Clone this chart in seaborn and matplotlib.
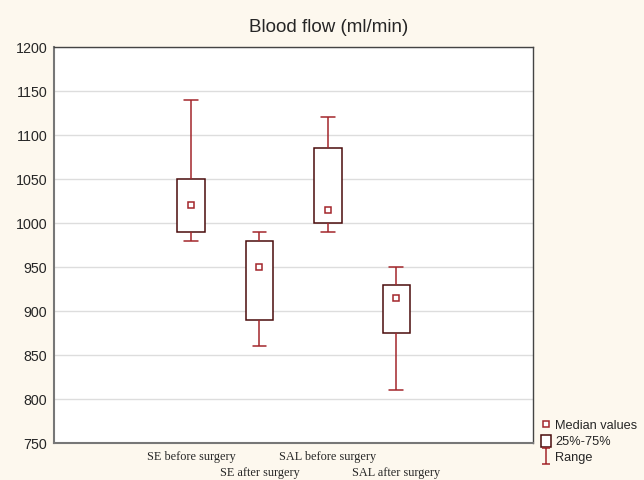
import matplotlib
matplotlib.use('Agg')
import matplotlib.pyplot as plt
import seaborn as sns
import pandas as pd
from matplotlib.lines import Line2D
from matplotlib.patches import Rectangle
from matplotlib.path import Path

groups = ['SE before surgery', 'SE after surgery', 'SAL before surgery', 'SAL after surgery']
mins = [980, 860, 990, 810]
q1s = [990, 890, 1000, 875]
medians = [1020, 950, 1015, 915]
q3s = [1050, 980, 1085, 930]
maxs = [1140, 990, 1120, 950]

# five summary values per group -> boxplot with whis=(0, 100) reproduces them exactly
rows = []
for g, a, b, c, d, e in zip(groups, mins, q1s, medians, q3s, maxs):
    for v in (a, b, c, d, e):
        rows.append({'group': g, 'flow': v})
df = pd.DataFrame(rows)

sns.set_style('white')
plt.rcParams['font.family'] = ['Liberation Sans', 'DejaVu Sans']

bg = '#fdf8ee'
box_edge = '#4a0c0c'
whisk = '#a3262b'

fig = plt.figure(figsize=(6.44, 4.8), dpi=100, facecolor=bg)
ax = fig.add_axes([0.084, 0.077, 0.744, 0.825])
ax.set_facecolor('white')

sns.boxplot(data=df, x='group', y='flow', order=groups, whis=(0, 100),
            width=0.4, showfliers=False, ax=ax, linecolor=box_edge,
            boxprops=dict(facecolor='white', edgecolor=box_edge, linewidth=1.1),
            whiskerprops=dict(color=whisk, linewidth=1.1),
            capprops=dict(color=whisk, linewidth=1.1),
            medianprops=dict(linewidth=0))

sns.pointplot(x=groups, y=medians, order=groups, linestyle='none', marker='s',
              markersize=4.5, markerfacecolor='white', markeredgecolor=whisk,
              markeredgewidth=1.1, color=whisk, errorbar=None, ax=ax)

ax.set_xlim(-2, 5)
ax.set_ylim(750, 1200)
ax.set_yticks(range(750, 1201, 50))
# staggered category labels: "before" on major ticks, "after" on minor ticks lower down
ax.set_xticks([-1, 0, 2, 4])
ax.set_xticklabels(['', groups[0], groups[2], ''], family='Liberation Serif', fontsize=8.8)
ax.set_xticks([1, 3], minor=True)
ax.set_xticklabels([groups[1], groups[3]], minor=True, family='Liberation Serif', fontsize=8.8)
ax.tick_params(axis='x', which='major', direction='in', length=3, pad=6, color='#444444')
ax.tick_params(axis='x', which='minor', direction='in', length=3, pad=17, color='#444444')
ax.tick_params(axis='y', direction='out', length=3, pad=2, labelsize=10.3, color='#888888')
ax.set_xlabel('')
ax.set_ylabel('')
ax.yaxis.grid(True, color='#dddddd', linewidth=1)
ax.set_axisbelow(True)
for side in ['left', 'bottom']:
    ax.spines[side].set_color('#777777')
    ax.spines[side].set_linewidth(1.5)
for side in ['top', 'right']:
    ax.spines[side].set_color('#444444')
    ax.spines[side].set_linewidth(1)

fig.text(329 / 644, 1 - 27 / 480, 'Blood flow (ml/min)', ha='center', va='center', fontsize=13.5)

range_marker = Path([(-0.5, 1), (0.5, 1), (0, 1), (0, -1), (-0.5, -1), (0.5, -1)],
                    [Path.MOVETO, Path.LINETO, Path.MOVETO, Path.LINETO, Path.MOVETO, Path.LINETO])
handles = [
    Line2D([], [], linestyle='none', marker='s', markersize=4, markerfacecolor='white',
           markeredgecolor=whisk, markeredgewidth=1.1),
    Rectangle((0, 0), 1, 1, facecolor='white', edgecolor=box_edge, linewidth=1.1),
    Line2D([], [], linestyle='none', marker=range_marker, markersize=11,
           markeredgecolor=whisk, markeredgewidth=1.1),
]
fig.legend(handles, ['Median values', '25%-75%', 'Range'], loc='lower left',
           bbox_to_anchor=(0.826, 0.014), frameon=False, fontsize=9.2,
           handlelength=0.8, handleheight=1.1, handletextpad=0.3, labelspacing=0.2,
           borderpad=0.2)

fig.savefig('out.png', dpi=100, facecolor=bg)
